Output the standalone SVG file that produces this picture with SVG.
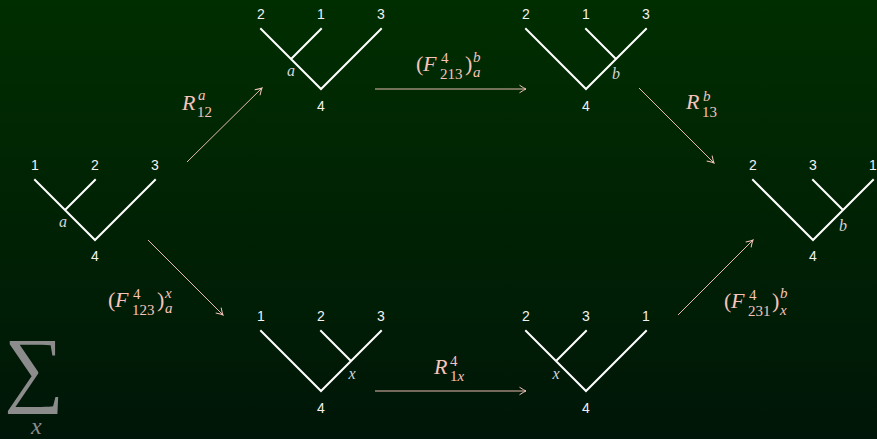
<svg xmlns="http://www.w3.org/2000/svg" width="877" height="439" viewBox="0 0 877 439">
<defs>
<linearGradient id="bg" x1="0" y1="0" x2="0" y2="1">
<stop offset="0" stop-color="#002e00"/>
<stop offset="1" stop-color="#001608"/>
</linearGradient>
<marker id="ah" markerWidth="12" markerHeight="12" viewBox="-8 -6 10 12" refX="0" refY="0" orient="auto" markerUnits="userSpaceOnUse">
<path d="M-6.5,-3.8 Q-2,-0.8 0,0 Q-2,0.8 -6.5,3.8" fill="none" stroke="#efc3b8" stroke-width="1"/>
</marker>
<style>
.edge{stroke:#ffffff;stroke-width:2;fill:none;stroke-linecap:square}
.leaf{font-family:"Liberation Sans",Arial,sans-serif;font-size:14px;fill:#f2f2f2;text-anchor:middle}
.jn{font-family:"Liberation Serif","Times New Roman",serif;font-style:italic;font-size:16px;fill:#d4d4d4;text-anchor:middle}
.arr{stroke:#e6bcb2;stroke-width:1;fill:none;marker-end:url(#ah)}
.m{font-family:"Liberation Serif","Times New Roman",serif;font-size:22px;fill:#f6c4ba}
.s{font-size:15px}
.i{font-style:italic}
</style>
</defs>
<rect width="877" height="439" fill="url(#bg)"/>

<g id="tree1">
<path class="edge" d="M35,180 L95,240 L155,180 M95,180 L65,210"/>
<text class="leaf" x="35" y="170">1</text><text class="leaf" x="95" y="170">2</text><text class="leaf" x="155" y="170">3</text>
<text class="leaf" x="95" y="261">4</text>
<text class="jn" x="63" y="227">a</text>
</g>

<g id="tree2">
<path class="edge" d="M261,29 L321,89 L381,29 M321,29 L291,59"/>
<text class="leaf" x="261" y="19">2</text><text class="leaf" x="321" y="19">1</text><text class="leaf" x="381" y="19">3</text>
<text class="leaf" x="321" y="111">4</text>
<text class="jn" x="291" y="76">a</text>
</g>

<g id="tree3">
<path class="edge" d="M526,29 L586,89 L646,29 M586,29 L616,59"/>
<text class="leaf" x="526" y="19">2</text><text class="leaf" x="586" y="19">1</text><text class="leaf" x="646" y="19">3</text>
<text class="leaf" x="586" y="111">4</text>
<text class="jn" x="616" y="79">b</text>
</g>

<g id="tree4">
<path class="edge" d="M753,180 L813,240 L873,180 M813,180 L843,210"/>
<text class="leaf" x="753" y="170">2</text><text class="leaf" x="813" y="170">3</text><text class="leaf" x="873" y="170">1</text>
<text class="leaf" x="813" y="261">4</text>
<text class="jn" x="843" y="231">b</text>
</g>

<g id="tree5">
<path class="edge" d="M261,331 L321,391 L381,331 M321,331 L351,361"/>
<text class="leaf" x="261" y="321">1</text><text class="leaf" x="321" y="321">2</text><text class="leaf" x="381" y="321">3</text>
<text class="leaf" x="321" y="413">4</text>
<text class="jn" x="352" y="379">x</text>
</g>

<g id="tree6">
<path class="edge" d="M526,331 L586,391 L646,331 M586,331 L556,361"/>
<text class="leaf" x="526" y="321">2</text><text class="leaf" x="586" y="321">3</text><text class="leaf" x="646" y="321">1</text>
<text class="leaf" x="586" y="413">4</text>
<text class="jn" x="556" y="379">x</text>
</g>

<g id="connectors">
<line class="arr" x1="187" y1="162" x2="262" y2="88"/>
<line class="arr" x1="375" y1="89" x2="526" y2="89"/>
<line class="arr" x1="639" y1="88" x2="714" y2="163"/>
<line class="arr" x1="148" y1="240" x2="223" y2="315"/>
<line class="arr" x1="375" y1="391" x2="526" y2="391"/>
<line class="arr" x1="678" y1="315" x2="753" y2="240"/>
</g>

<g id="labels">
<text class="m"><tspan class="i" x="182" y="110">R</tspan><tspan class="s i" x="198" y="100">a</tspan><tspan class="s" x="197" y="117">12</tspan></text>
<text class="m"><tspan class="i" x="686" y="109">R</tspan><tspan class="s i" x="703" y="101">b</tspan><tspan class="s" x="702" y="117">13</tspan></text>
<text class="m"><tspan x="416" y="71">(</tspan><tspan class="i" x="423" y="71">F</tspan><tspan class="s" x="441" y="63">4</tspan><tspan class="s" x="440" y="79">213</tspan><tspan x="465" y="71">)</tspan><tspan class="s i" x="473" y="62">b</tspan><tspan class="s i" x="473" y="77">a</tspan></text>
<text class="m"><tspan x="108" y="307">(</tspan><tspan class="i" x="115" y="307">F</tspan><tspan class="s" x="133" y="299">4</tspan><tspan class="s" x="132" y="315">123</tspan><tspan x="157" y="307">)</tspan><tspan class="s i" x="165" y="298">x</tspan><tspan class="s i" x="165" y="313">a</tspan></text>
<text class="m"><tspan x="724" y="308">(</tspan><tspan class="i" x="731" y="308">F</tspan><tspan class="s" x="749" y="300">4</tspan><tspan class="s" x="748" y="316">231</tspan><tspan x="772" y="308">)</tspan><tspan class="s i" x="780" y="298">b</tspan><tspan class="s i" x="780" y="315">x</tspan></text>
<text class="m"><tspan class="i" x="434" y="374">R</tspan><tspan class="s" x="450" y="366">4</tspan><tspan class="s" x="450" y="381">1<tspan class="i">x</tspan></tspan></text>
</g>

<g id="sum">
<text x="4" y="396" font-family="'Liberation Serif','DejaVu Serif',serif" font-size="84" fill="#8c8c8c">∑</text>
<text x="31" y="434" font-family="'Liberation Serif',serif" font-style="italic" font-size="24" fill="#8c8c8c">x</text>
</g>
</svg>
